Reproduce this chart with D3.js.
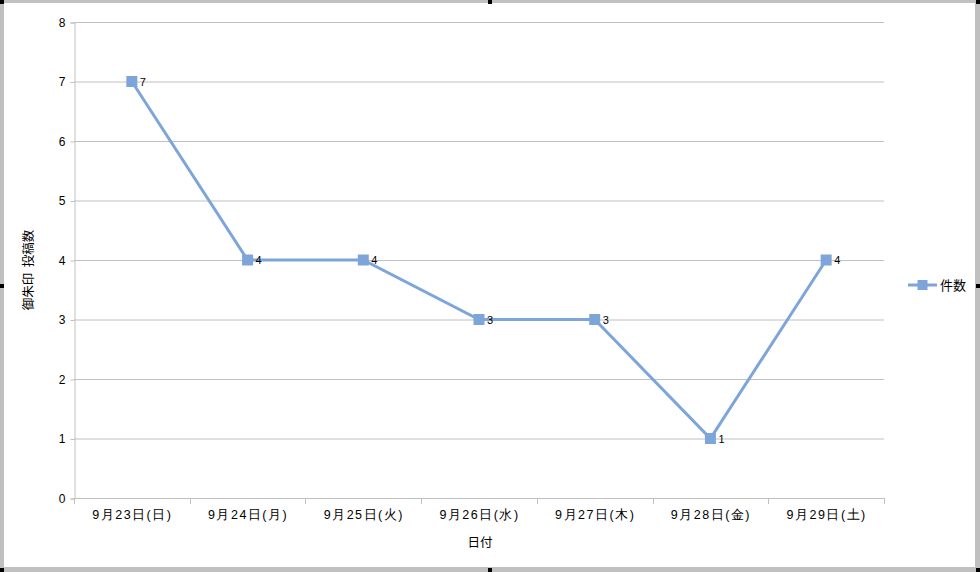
<!DOCTYPE html>
<html>
<head>
<meta charset="utf-8">
<script src="https://cdn.jsdelivr.net/npm/d3@7"></script>
<style>
  body { margin: 0; background: #fff; }
  svg { display: block; font-family: "Noto Sans CJK JP", "Noto Sans", sans-serif; }
</style>
</head>
<body>
<svg id="chart" width="980" height="572"></svg>
<script>
// データ
const dates = ["9月23日(日)", "9月24日(月)", "9月25日(火)", "9月26日(水)", "9月27日(木)", "9月28日(金)", "9月29日(土)"];
const counts = [7, 4, 4, 3, 3, 1, 4];
const yTicks = [0, 1, 2, 3, 4, 5, 6, 7, 8];
const seriesName = "件数";
const yTitle = "御朱印  投稿数";
const xTitle = "日付";

const W = 980, H = 572;
const margin = { left: 74, top: 22, right: 96, bottom: 74 };
const lineColor = "#7ea5da";
const gridColor = "#c0c0c0";

const svg = d3.select("#chart");

// 外枠
svg.append("rect").attr("x", 0).attr("y", 0).attr("width", W).attr("height", H).attr("fill", "#c0c0c0");
svg.append("rect").attr("x", 4).attr("y", 3).attr("width", W - 9).attr("height", H - 8).attr("fill", "#fff");

const handles = [[0, 0], [W / 2, 0], [W, 0], [0, H / 2], [W, H / 2], [0, H], [W / 2, H], [W, H]];
svg.selectAll(".handle").data(handles).enter().append("rect")
  .attr("x", d => Math.min(Math.max(d[0] - 2, 0), W - 4))
  .attr("y", d => Math.min(Math.max(d[1] - 2, 0), H - 4))
  .attr("width", 4).attr("height", 4).attr("fill", "#000");

const x = d3.scaleBand().domain(dates).range([margin.left, W - margin.right]);
const y = d3.scaleLinear().domain([0, 8]).range([H - margin.bottom, margin.top]);

// グリッド線
svg.append("g").selectAll("line").data(yTicks.slice(1)).enter().append("line")
  .attr("x1", margin.left).attr("x2", W - margin.right)
  .attr("y1", d => y(d) + 0.5).attr("y2", d => y(d) + 0.5)
  .attr("stroke", gridColor).attr("stroke-width", 1);

// Y軸
const yAxis = svg.append("g")
  .attr("transform", `translate(${margin.left + 0.5},0.5)`)
  .call(d3.axisLeft(y).tickValues(yTicks).tickSize(4).tickPadding(5));
yAxis.selectAll("path, line").attr("stroke", gridColor);
yAxis.selectAll("text").attr("font-size", 12).attr("fill", "#000")
  .attr("font-family", "Liberation Sans, Arial, sans-serif");

// X軸
const xAxis = svg.append("g")
  .attr("transform", `translate(0.5,${H - margin.bottom + 0.5})`)
  .call(d3.axisBottom(x).tickSize(0).tickPadding(12));
xAxis.select(".domain").attr("stroke", gridColor).attr("d", `M${margin.left},0H${W - margin.right}`);
xAxis.selectAll(".tick line").remove();
xAxis.selectAll("text").attr("font-size", 12.5).attr("fill", "#000")
  .attr("letter-spacing", 1.5);
// 区切りの目盛り
svg.append("g").selectAll("line").data(d3.range(dates.length + 1)).enter().append("line")
  .attr("x1", i => Math.round(margin.left + i * x.step()) + 0.5)
  .attr("x2", i => Math.round(margin.left + i * x.step()) + 0.5)
  .attr("y1", H - margin.bottom).attr("y2", H - margin.bottom + 6)
  .attr("stroke", gridColor);

// 折れ線
const cx = d => x(d) + x.bandwidth() / 2;
const line = d3.line().x((d, i) => cx(dates[i])).y(d => y(d));
svg.append("path").datum(counts)
  .attr("d", line).attr("fill", "none")
  .attr("stroke", lineColor).attr("stroke-width", 3);

svg.append("g").selectAll("rect").data(counts).enter().append("rect")
  .attr("x", (d, i) => cx(dates[i]) - 5.5).attr("y", d => y(d) - 5.5)
  .attr("width", 11).attr("height", 11).attr("fill", lineColor);

// データラベル
svg.append("g").selectAll("text").data(counts).enter().append("text")
  .attr("x", (d, i) => cx(dates[i]) + 8).attr("y", d => y(d) + 4)
  .attr("font-size", 11).attr("font-family", "Liberation Sans, Arial, sans-serif")
  .text(d => d);

// 軸タイトル
svg.append("text")
  .attr("transform", "translate(33,270) rotate(-90)")
  .attr("text-anchor", "middle").attr("font-size", 12.5)
  .attr("xml:space", "preserve").style("white-space", "pre").text(yTitle);
svg.append("text")
  .attr("x", (margin.left + W - margin.right) / 2 + 1).attr("y", 547)
  .attr("text-anchor", "middle").attr("font-size", 12.5).text(xTitle);

// 凡例
const lg = svg.append("g").attr("transform", "translate(908,285)");
lg.append("line").attr("x1", 0).attr("x2", 29).attr("stroke", lineColor).attr("stroke-width", 3);
lg.append("rect").attr("x", 9.5).attr("y", -5).attr("width", 10).attr("height", 10).attr("fill", lineColor);
lg.append("text").attr("x", 32).attr("y", 5).attr("font-size", 13).text(seriesName);
</script>
</body>
</html>
